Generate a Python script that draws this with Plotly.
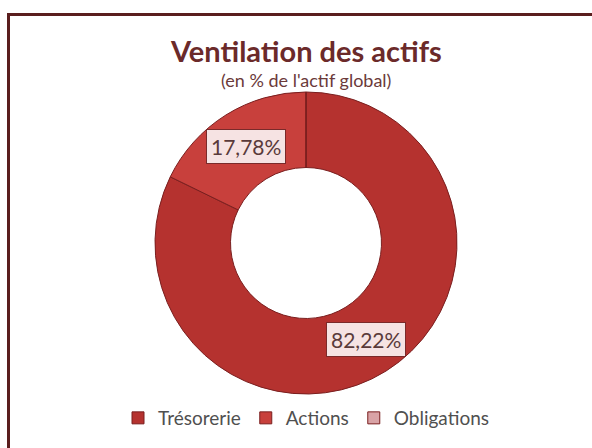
import numpy as np
import plotly.graph_objects as go

categories = ["Trésorerie", "Actions", "Obligations"]
values = [82.22, 17.78, 0.0]
colors = ["#B5322F", "#C8403C", "#D9A3A6"]
label_text = ["82,22%", "17,78%", ""]

W, H = 592, 448
cx, cy, R = 306, 243, 151
hole = 0.5
dom_x = [(cx - R) / W, (cx + R) / W]
dom_y = [1 - (cy + R) / H, 1 - (cy - R) / H]

fig = go.Figure()
fig.add_trace(go.Pie(
    labels=categories,
    values=values,
    sort=False,
    direction="clockwise",
    rotation=0,
    hole=hole,
    marker=dict(colors=colors, line=dict(color="#7A1F1F", width=1)),
    textinfo="none",
    hoverinfo="label+percent",
    domain=dict(x=dom_x, y=dom_y),
    showlegend=True,
))

# data labels, placed at the middle of each ring segment
vals = np.array(values, dtype=float)
total = vals.sum()
cum = np.cumsum(vals) - vals / 2
rmid = R * (1 + hole) / 2
for v, c, t in zip(vals, cum, label_text):
    if v <= 0:
        continue
    ang = 2 * np.pi * c / total
    px = cx + rmid * np.sin(ang)
    py = cy - rmid * np.cos(ang)
    fig.add_annotation(
        x=px / W, y=1 - py / H, xref="paper", yref="paper",
        text=t, showarrow=False,
        font=dict(family="Lato, Open Sans, sans-serif", size=21, color="#5A3A3A"),
        bgcolor="#F6E3E3", bordercolor="#7A2A2A", borderwidth=1, borderpad=4,
        xanchor="center", yanchor="middle",
    )

fig.add_annotation(
    x=306 / W, y=1 - 50 / H, xref="paper", yref="paper",
    text="<b>Ventilation des actifs</b>", showarrow=False,
    font=dict(family="Lato, Open Sans, sans-serif", size=29, color="#6B2A2A"),
    xanchor="center", yanchor="middle",
)
fig.add_annotation(
    x=306 / W, y=1 - 80 / H, xref="paper", yref="paper",
    text="(en % de l'actif global)", showarrow=False,
    font=dict(family="Lato, Open Sans, sans-serif", size=18, color="#6B3A3A"),
    xanchor="center", yanchor="middle",
)

fig.add_shape(
    type="rect", xref="paper", yref="paper",
    x0=8.5 / W, x1=1.1, y0=-0.1, y1=1 - 14.5 / H,
    line=dict(color="#5A1E1E", width=3), fillcolor="rgba(0,0,0,0)",
)

fig.update_layout(
    width=W, height=H,
    margin=dict(l=0, r=0, t=0, b=0),
    paper_bgcolor="white", plot_bgcolor="white",
    legend=dict(
        orientation="h", x=306 / W, y=1 - 418 / H,
        xanchor="center", yanchor="middle",
        font=dict(family="Lato, Open Sans, sans-serif", size=19, color="#505050"),
        itemclick=False,
    ),
)

fig.write_html("out.html")
